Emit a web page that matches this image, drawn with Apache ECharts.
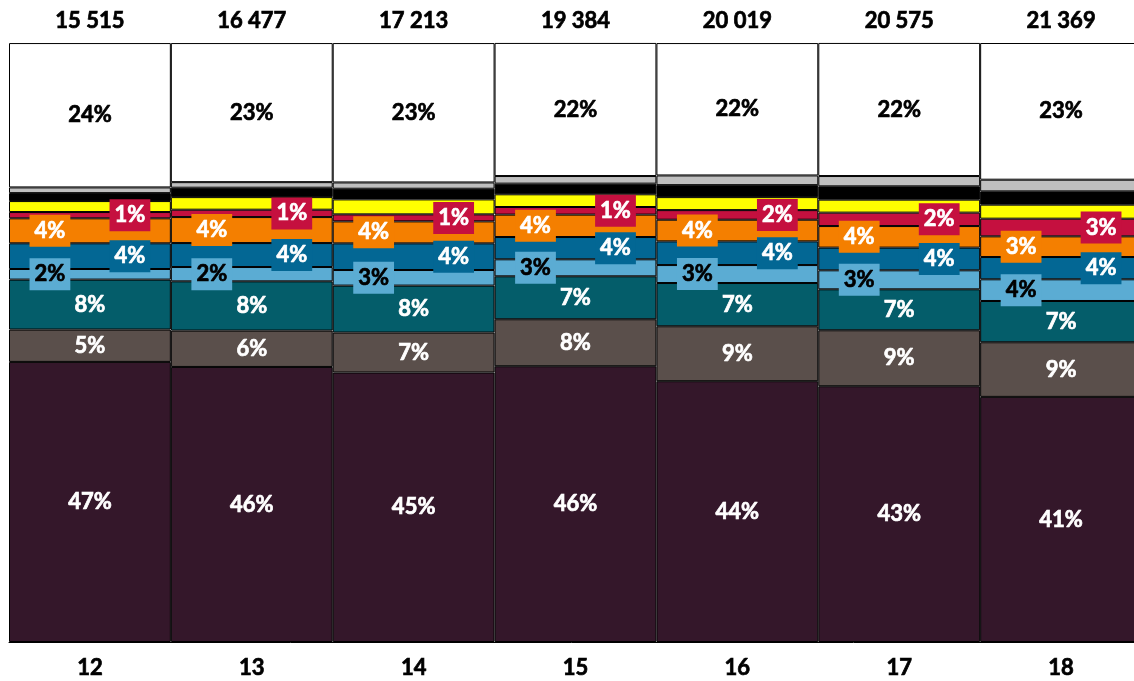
<!DOCTYPE html>
<html>
<head>
<meta charset="utf-8">
<script src="https://cdn.jsdelivr.net/npm/echarts@6/dist/echarts.min.js"></script>
<style>html,body{margin:0;padding:0;background:#fff;}#c{width:1134px;height:681px;}</style>
</head>
<body>
<div id="c"></div>
<script>
const categories = ['12','13','14','15','16','17','18'];
const totals = ['15 515','16 477','17 213','19 384','20 019','20 575','21 369'];
const purple = [46.76,45.92,44.99,46.04,43.54,42.70,40.92];
const brown = [5.40,6.07,6.67,7.84,9.17,9.34,9.12];
const teal = [8.34,8.22,7.84,7.17,7.22,6.84,6.89];
const lightBlue = [1.77,2.39,2.60,2.84,3.00,3.17,3.62];
const blue = [4.29,4.00,4.45,3.72,3.95,3.79,3.72];
const orange = [4.17,4.34,3.67,3.74,3.62,3.60,3.45];
const red = [1.05,1.23,1.17,1.27,1.60,2.24,2.95];
const yellow = [1.83,2.10,2.50,2.12,2.17,2.17,2.34];
const black = [1.33,1.57,1.78,1.78,2.00,2.22,2.22];
const gray = [0.95,0.93,1.05,1.27,1.62,1.72,1.95];
const white = [24.10,23.22,23.27,22.22,22.10,22.22,22.82];

const FONT = 'Lato';
const FW = 'bold';
const FS = 22;
const SW = 0.7;
function lbl(color, opts) {
  return Object.assign({
    show: true, position: 'inside', color: color,
    fontFamily: FONT, fontWeight: FW, fontSize: FS,
    textBorderColor: color, textBorderWidth: SW,
    formatter: p => Math.round(p.value) + '%'
  }, opts || {});
}
function boxLbl(color, bg) {
  return lbl(color, { backgroundColor: bg, padding: [6, 5, 4, 5] });
}
const specs = [
  { name: 'purple', data: purple, color: '#34172A', label: lbl('#fff'), dx: 0 },
  { name: 'brown', data: brown, color: '#5A4F4B', label: lbl('#fff'), dx: 0 },
  { name: 'teal', data: teal, color: '#045D6A', label: lbl('#fff'), dx: 0 },
  { name: 'lightBlue', data: lightBlue, color: '#5BACD3', label: boxLbl('#000', '#5BACD3'), dx: -40 },
  { name: 'blue', data: blue, color: '#036794', label: boxLbl('#fff', '#036794'), dx: 40 },
  { name: 'orange', data: orange, color: '#F47F00', label: boxLbl('#fff', '#F47F00'), dx: -40 },
  { name: 'red', data: red, color: '#C5103F', label: boxLbl('#fff', '#C5103F'), dx: 40 },
  { name: 'yellow', data: yellow, color: '#FFFF00', label: { show: false }, dx: 0 },
  { name: 'black', data: black, color: '#000000', label: { show: false }, dx: 0 },
  { name: 'gray', data: gray, color: '#BFBFBF', label: { show: false }, dx: 0 },
  { name: 'white', data: white, color: '#FFFFFF', label: lbl('#000'), dx: 0 }
];
const series = specs.map((s) => ({
  name: s.name, type: 'bar', stack: 'all', data: s.data,
  barCategoryGap: '0%',
  itemStyle: { color: s.color, borderColor: '#000', borderWidth: 1 },
  label: s.label,
  labelLayout: { hideOverlap: false, dx: s.dx },
  emphasis: { disabled: true }
}));
const axisText = { color: '#000', fontFamily: FONT, fontWeight: FW, fontSize: FS, textBorderColor: '#000', textBorderWidth: SW };
const chart = echarts.init(document.getElementById('c'));
chart.setOption({
  animation: false,
  grid: { left: 9, top: 43, width: 1133, height: 599, outerBoundsMode: 'none', containLabel: false },
  xAxis: [
    { type: 'category', data: categories, position: 'bottom',
      axisLine: { show: true, lineStyle: { color: '#000', width: 1 } }, axisTick: { show: false },
      axisLabel: Object.assign({ margin: 15 }, axisText) },
    { type: 'category', data: totals, position: 'top',
      axisLine: { show: false }, axisTick: { show: false },
      axisLabel: Object.assign({ margin: 11 }, axisText) }
  ],
  yAxis: { type: 'value', min: 0, max: 100, show: false, splitLine: { show: false } },
  series: series
});
</script>
</body>
</html>
